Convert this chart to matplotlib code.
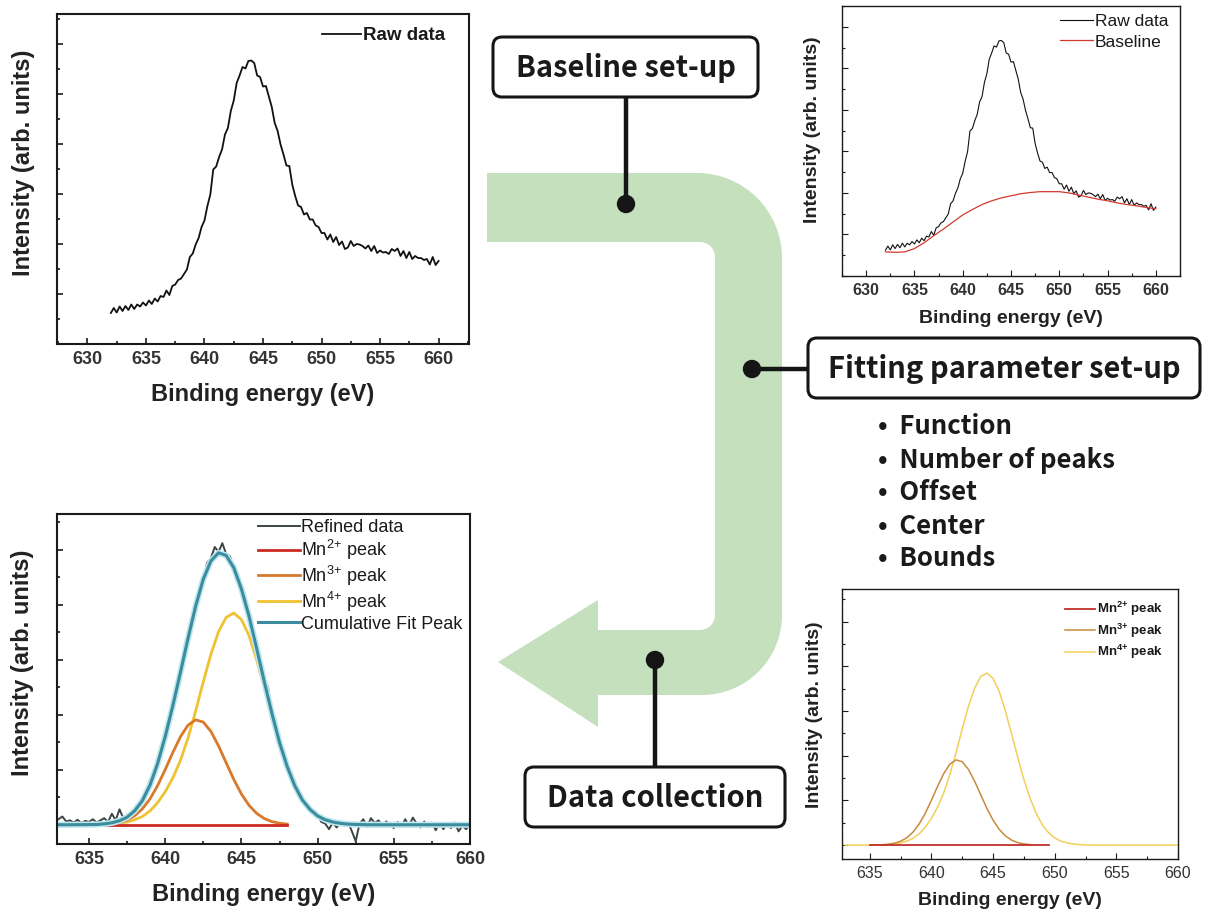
import numpy as np
import matplotlib
matplotlib.use("Agg")
import matplotlib.pyplot as plt
from matplotlib.path import Path
from matplotlib.patches import PathPatch, FancyBboxPatch, Circle
from matplotlib.ticker import MultipleLocator

plt.rcParams["font.family"] = ["Liberation Sans", "DejaVu Sans"]
plt.rcParams["mathtext.default"] = "regular"

# ---------------- data ----------------
# raw Mn 2p3/2 spectrum, 632-660 eV, step 0.25 eV
raw_energy = np.arange(632.0, 660.001, 0.25)
raw_intensity = [
    0.62, 0.72, 0.63, 0.75, 0.66, 0.76, 0.68, 0.79, 0.70, 0.79, 0.75, 0.83,
    0.77, 0.87, 0.80, 0.91, 0.85, 0.96, 0.94, 1.07, 0.98, 1.16, 1.19, 1.28,
    1.31, 1.40, 1.49, 1.74, 1.81, 1.99, 2.12, 2.34, 2.47, 2.76, 2.99, 3.49,
    3.55, 3.74, 3.89, 4.19, 4.32, 4.66, 4.87, 5.22, 5.37, 5.54, 5.51, 5.66,
    5.67, 5.62, 5.37, 5.34, 5.15, 5.16, 4.95, 4.74, 4.42, 4.26, 3.99, 3.79,
    3.57, 3.56, 3.19, 2.96, 2.77, 2.74, 2.59, 2.62, 2.49, 2.49, 2.37, 2.34,
    2.22, 2.22, 2.09, 2.19, 2.04, 2.14, 1.98, 2.05, 1.90, 1.93, 2.06, 1.96,
    2.00, 1.99, 1.96, 1.91, 1.97, 1.86, 1.96, 1.82, 1.87, 1.83, 1.84, 1.80,
    1.90, 1.86, 1.91, 1.76, 1.86, 1.72, 1.84, 1.70, 1.76, 1.72, 1.72, 1.68,
    1.70, 1.59, 1.74, 1.58, 1.66,
]

# baseline (Shirley-type), 632-660 eV, step 1 eV
baseline_energy = np.arange(632.0, 660.001, 1.0)
baseline_intensity = [
    0.58, 0.57, 0.58, 0.66, 0.80, 0.97, 1.13, 1.30, 1.47, 1.60, 1.72, 1.81,
    1.88, 1.93, 1.98, 2.01, 2.03, 2.03, 2.03, 2.00, 1.95, 1.90, 1.85, 1.81,
    1.76, 1.72, 1.69, 1.65, 1.62,
]

# refined (baseline-subtracted) data, 633-660 eV, step 0.25 eV
refined_energy = np.arange(633.0, 660.001, 0.25)
refined_intensity = [
    0.10, 0.15, 0.06, 0.08, 0.04, 0.09, 0.03, 0.07, 0.05, 0.10, 0.04, 0.08,
    0.12, 0.05, 0.20, 0.08, 0.28, 0.12, 0.18, 0.22, 0.30, 0.38, 0.48, 0.62,
    0.82, 0.92, 1.22, 1.38, 1.64, 1.99, 2.18, 2.56, 2.76, 3.16, 3.36, 3.76,
    3.94, 4.29, 4.46, 4.76, 4.85, 5.05, 4.96, 5.12, 4.92, 4.88, 4.68, 4.55,
    4.30, 4.16, 3.80, 3.60, 3.22, 3.02, 2.64, 2.50, 2.06, 1.90, 1.54, 1.36,
    1.12, 0.92, 0.80, 0.60, 0.50, 0.38, 0.32, 0.20, 0.18, 0.05, 0.02, -0.08,
    0.04, -0.05, 0.06, -0.02, 0.05, -0.12, -0.30, 0.02, 0.10, -0.04, 0.12, 0.03,
    0.08, -0.02, 0.06, 0.00, -0.06, 0.05, -0.03, 0.10, -0.02, 0.13, 0.02, -0.05,
    0.06, -0.04, 0.04, -0.10, 0.03, -0.08, 0.02, -0.06, 0.04, -0.12, -0.02, -0.08,
    0.02,
]

# fitted component peaks
mn3_energy = np.arange(636.0, 648.001, 0.5)
mn3_intensity = [
    0.008, 0.020, 0.043, 0.087, 0.164, 0.288, 0.469, 0.711, 1.003, 1.314,
    1.600, 1.812, 1.907, 1.866, 1.697, 1.434, 1.127, 0.823, 0.559, 0.353,
    0.207, 0.113, 0.057, 0.027, 0.012,
]
fit_energy = np.arange(633.0, 660.001, 0.5)
mn4_intensity = [
    0.0, 0.0, 0.001, 0.002, 0.003, 0.005, 0.008, 0.015, 0.03, 0.05, 0.09, 0.15,
    0.25, 0.40, 0.60, 0.85, 1.17, 1.58, 2.07, 2.60, 3.10, 3.51, 3.77, 3.85,
    3.73, 3.44, 3.00, 2.49, 1.97, 1.47, 1.05, 0.71, 0.45, 0.28, 0.16, 0.09,
    0.05, 0.025, 0.012, 0.005, 0.002,
    0, 0, 0, 0, 0, 0, 0, 0, 0, 0, 0, 0, 0, 0,
]
cumulative_intensity = [
    0.0, 0.0, 0.001, 0.002, 0.003, 0.005, 0.016, 0.035, 0.073, 0.137, 0.254, 0.438,
    0.719, 1.111, 1.603, 2.164, 2.770, 3.392, 3.977, 4.466, 4.797, 4.944, 4.897, 4.673,
    4.289, 3.793, 3.207, 2.603, 2.027, 1.497, 1.062, 0.710, 0.450, 0.280, 0.160, 0.090,
    0.050, 0.025, 0.012, 0.005, 0.002,
    0, 0, 0, 0, 0, 0, 0, 0, 0, 0, 0, 0, 0, 0,
]
mn2_energy_p3 = [636.0, 648.0]
mn2_energy_p4 = [635.0, 649.5]
mn2_intensity = [0.0, 0.0]

x_ticks = [630, 635, 640, 645, 650, 655, 660]
xlabel = "Binding energy (eV)"
ylabel = "Intensity (arb. units)"
step_texts = ["Baseline set-up", "Fitting parameter set-up", "Data collection"]
fit_params = ["Function", "Number of peaks", "Offset", "Center", "Bounds"]
mn_labels = ["Mn$^{2{+}}$ peak", "Mn$^{3{+}}$ peak", "Mn$^{4{+}}$ peak"]

# ---------------- figure ----------------
W, H = 1213, 914
fig = plt.figure(figsize=(W / 100, H / 100), dpi=100)
fig.patch.set_facecolor("white")


def rect(x0, y0, x1, y1):
    return [x0 / W, 1 - y1 / H, (x1 - x0) / W, (y1 - y0) / H]


# ---- overlay for the flow diagram (pixel coordinates) ----
ov = fig.add_axes([0, 0, 1, 1], zorder=0)
ov.set_xlim(0, W)
ov.set_ylim(H, 0)
ov.axis("off")

green = "#c4e0bd"
k = 0.5523
Ro, Rb, Ri = 85, 80, 15
verts = [
    (487, 173), (782 - Ro, 173),
    (782 - Ro + k * Ro, 173), (782, 173 + Ro - k * Ro), (782, 173 + Ro),
    (782, 695 - Rb),
    (782, 695 - Rb + k * Rb), (782 - Rb + k * Rb, 695), (782 - Rb, 695),
    (598, 695), (598, 727), (498, 662), (598, 600), (598, 630),
    (715 - Ri, 630),
    (715 - Ri + k * Ri, 630), (715, 630 - Ri + k * Ri), (715, 630 - Ri),
    (715, 242 + Ri),
    (715, 242 + Ri - k * Ri), (715 - Ri + k * Ri, 242), (715 - Ri, 242),
    (487, 242), (487, 173),
]
codes = [Path.MOVETO, Path.LINETO,
         Path.CURVE4, Path.CURVE4, Path.CURVE4,
         Path.LINETO,
         Path.CURVE4, Path.CURVE4, Path.CURVE4,
         Path.LINETO, Path.LINETO, Path.LINETO, Path.LINETO, Path.LINETO,
         Path.LINETO,
         Path.CURVE4, Path.CURVE4, Path.CURVE4,
         Path.LINETO,
         Path.CURVE4, Path.CURVE4, Path.CURVE4,
         Path.LINETO, Path.CLOSEPOLY]
ov.add_patch(PathPatch(Path(verts, codes), facecolor=green, edgecolor="none"))

# connectors
lw_conn = 3.2
ov.plot([626, 626], [97, 204], color="#151515", lw=lw_conn, solid_capstyle="butt")
ov.plot([752, 808], [369, 369], color="#151515", lw=lw_conn, solid_capstyle="butt")
ov.plot([655, 655], [660, 767], color="#151515", lw=lw_conn, solid_capstyle="butt")
for cx, cy in [(626, 204), (752, 369), (655, 660)]:
    ov.add_patch(Circle((cx, cy), 8.5, color="#151515", zorder=5))

boxes = [(493, 37, 758, 97), (808, 338, 1200, 398), (525, 767, 785, 827)]
box_font = ["Noto Sans CJK KR", "DejaVu Sans"]
for (x0, y0, x1, y1), txt in zip(boxes, step_texts):
    ov.add_patch(FancyBboxPatch((x0 + 9, y0 + 9), (x1 - x0) - 18, (y1 - y0) - 18,
                                boxstyle="round,pad=9", facecolor="white",
                                edgecolor="#151515", lw=2.2, zorder=6))
    ov.text((x0 + x1) / 2, (y0 + y1) / 2 + 1, txt, ha="center", va="center",
            fontsize=21, fontweight="bold", family=box_font, color="#1a1a1a", zorder=7)

for i, p in enumerate(fit_params):
    ov.text(878, 427 + 33 * i, "•  " + p, ha="left", va="center", fontsize=18.5,
            fontweight="bold", family=box_font, color="#1a1a1a")

lab_color = "#222222"


def style_axes(ax, spine_w, lab_size, tick_size, xlim, ylim, ylab_xy, xlab_xy):
    ax.set_xlim(*xlim)
    ax.set_ylim(*ylim)
    for s in ax.spines.values():
        s.set_linewidth(spine_w)
        s.set_color("#1a1a1a")
    ax.xaxis.set_major_locator(MultipleLocator(5))
    ax.xaxis.set_minor_locator(MultipleLocator(2.5))
    ax.yaxis.set_major_locator(MultipleLocator(1))
    ax.yaxis.set_minor_locator(MultipleLocator(0.5))
    ax.tick_params(which="both", direction="in", top=False, right=False,
                   labelleft=False, width=spine_w * 0.8, color="#1a1a1a")
    ax.tick_params(which="major", length=4.5, pad=5, labelsize=tick_size,
                   labelcolor="#333333")
    ax.tick_params(which="minor", length=2.3)
    ax.set_xlabel(xlabel, fontsize=lab_size, fontweight="bold", color=lab_color)
    ax.set_ylabel(ylabel, fontsize=lab_size, fontweight="bold", color=lab_color)
    ax.xaxis.label.set_va("center")
    ax.yaxis.label.set_va("center")
    ax.xaxis.set_label_coords(*xlab_xy)
    ax.yaxis.set_label_coords(*ylab_xy)


def leg(ax, handles, x_px, y_px, size, weight, hlen, spacing):
    lg = ax.legend(handles=handles, loc="upper left",
                   bbox_to_anchor=(x_px / W, 1 - y_px / H),
                   bbox_transform=fig.transFigure, frameon=False,
                   borderpad=0, borderaxespad=0, handlelength=hlen,
                   handletextpad=0.1, labelspacing=spacing,
                   prop={"size": size, "weight": weight})
    for t in lg.get_texts():
        t.set_color("#1a1a1a")
    return lg


# ---- panel 1: raw data ----
ax1 = fig.add_axes(rect(57, 14, 469, 344), zorder=2)
l1, = ax1.plot(raw_energy, raw_intensity, color="#111111", lw=1.3, label="Raw data")
style_axes(ax1, 1.5, 17, 13, (627.4, 662.6), (0, 6.6),
           (-0.0825, 0.548), (0.5, -0.1545))
ax1.set_xticks(x_ticks)
for t in ax1.get_xticklabels():
    t.set_fontweight("bold")
leg(ax1, [l1], 322, 27, 13.5, "bold", 2.1, 0.2)

# ---- panel 2: raw data + baseline ----
ax2 = fig.add_axes(rect(842, 6, 1180, 276), zorder=2)
l2a, = ax2.plot(raw_energy, raw_intensity, color="#111111", lw=0.8, label="Raw data")
l2b, = ax2.plot(baseline_energy, baseline_intensity, color="#d23a2e", lw=0.9,
                label="Baseline")
style_axes(ax2, 1.0, 14, 11.5, (627.5, 662.5), (0, 6.5),
           (-0.086, 0.541), (0.5, -0.156))
ax2.set_xticks(x_ticks)
for t in ax2.get_xticklabels():
    t.set_fontweight("bold")
leg(ax2, [l2a, l2b], 1060, 14, 12.5, "normal", 1.9, 0.3)

# ---- panel 3: fitted data ----
ax3 = fig.add_axes(rect(57, 514, 470, 844), zorder=2)
l3a, = ax3.plot(refined_energy, refined_intensity, color="#3c4444", lw=1.4,
                label="Refined data")
l3d, = ax3.plot(fit_energy, mn4_intensity, color="#f0c232", lw=2.0,
                label=mn_labels[2])
l3c, = ax3.plot(mn3_energy, mn3_intensity, color="#d9792c", lw=2.0,
                label=mn_labels[1])
l3b, = ax3.plot(mn2_energy_p3, mn2_intensity, color="#cc2a20", lw=2.0,
                label=mn_labels[0])
ax3.plot(fit_energy, cumulative_intensity, color="#bfe7ef", lw=4.5)
l3e, = ax3.plot(fit_energy, cumulative_intensity, color="#3c8c9e", lw=2.2,
                label="Cumulative Fit Peak")
style_axes(ax3, 1.5, 17, 13, (632.9, 660), (-0.35, 5.65),
           (-0.0825, 0.548), (0.5, -0.1545))
ax3.set_xticks(x_ticks[1:])
for t in ax3.get_xticklabels():
    t.set_fontweight("bold")
leg(ax3, [l3a, l3b, l3c, l3d, l3e], 258, 519, 13, "normal", 2.3, 0.1)

# ---- panel 4: component peaks ----
ax4 = fig.add_axes(rect(842, 589, 1178, 859), zorder=2)
l4c, = ax4.plot(fit_energy, mn4_intensity, color="#f2cf5a", lw=1.1,
                label=mn_labels[2])
l4b, = ax4.plot(mn3_energy, mn3_intensity, color="#c98a3c", lw=1.1,
                label=mn_labels[1])
l4a, = ax4.plot(mn2_energy_p4, mn2_intensity, color="#c0302a", lw=1.3,
                label=mn_labels[0])
style_axes(ax4, 1.0, 14, 11.5, (632.75, 660), (-0.31, 5.73),
           (-0.083, 0.533), (0.5, -0.152))
ax4.set_xticks(x_ticks[1:])
leg(ax4, [l4a, l4b, l4c], 1065, 600, 9.5, "bold", 2.3, 0.25)

fig.savefig("out.png", dpi=100)
